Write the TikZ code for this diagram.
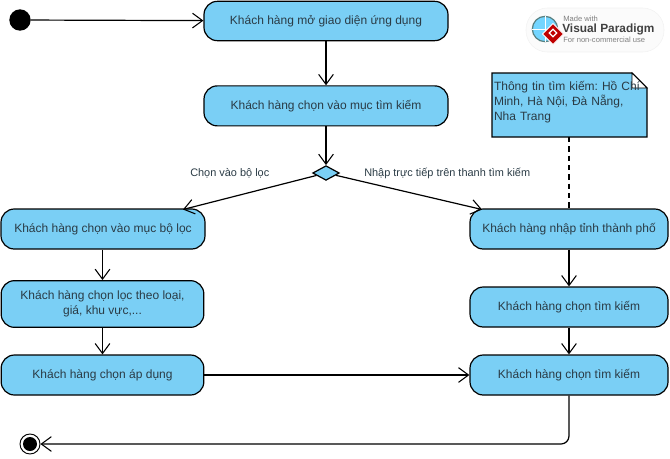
\documentclass[tikz,border=0pt]{standalone}
\usepackage{fontspec}
\setmainfont{Liberation Sans}
\usetikzlibrary{arrows.meta,positioning,shapes.geometric}
\definecolor{actblue}{HTML}{7ACFF5}
\definecolor{inkdark}{HTML}{2A3B45}
\frenchspacing
\tikzset{x=0.75pt,y=-0.75pt,
	activity/.style={
		draw=black,
		fill=actblue,
		line width=0.9pt,
		rounded corners=10pt,
		text=inkdark,
		font=\fontsize{9}{11}\selectfont,
		align=center,
		inner sep=0pt
	},
	guard/.style={
		text=inkdark,
		font=\fontsize{8.2}{10}\selectfont,
		inner sep=0pt
	},
	every edge/.style={
		draw,
		->,>={Straight Barb[length=7.5pt,width=11pt,line width=0.8pt]},
		line width=0.9pt
	}
}
\begin{document}
\begin{tikzpicture}
	\useasboundingbox (0,0) rectangle (670,458);

	\node[circle,fill=black,minimum size=16pt,inner sep=0pt] (start) at (20,20) {};
	\node[activity,minimum width=183pt,minimum height=29.5pt] (open) at (326,21) {Khách hàng mở giao diện ứng dụng};
	\node[activity,minimum width=183pt,minimum height=30pt,below=33pt of open] (search) {Khách hàng chọn vào mục tìm kiếm};
	\node[diamond,draw=black,fill=actblue,line width=0.9pt,minimum width=20pt,minimum height=11pt,inner sep=0pt] (choice) at (326,173) {};

	\node[activity,minimum width=153pt,minimum height=30pt] (filter) at (103,229) {Khách hàng chọn vào mục bộ lọc};
	\node[activity,minimum width=152pt,minimum height=35pt] (kind) at (102.5,304) {Khách hàng chọn lọc theo loại,\\giá, khu vực,...};
	\node[activity,minimum width=152pt,minimum height=30pt] (apply) at (102.5,375) {Khách hàng chọn áp dụng};

	\node[activity,minimum width=148.5pt,minimum height=30pt] (city) at (569,229) {Khách hàng nhập tỉnh thành phố};
	\node[activity,minimum width=148.5pt,minimum height=30pt] (find) at (569,307) {Khách hàng chọn tìm kiếm};
	\node[activity,minimum width=148.5pt,minimum height=30pt] (result) at (569,375) {Khách hàng chọn tìm kiếm};

	\node[circle,draw=black,line width=0.7pt,fill=white,minimum size=15pt,inner sep=0pt] (stop) at (30,444) {};
	\node[circle,fill=black,minimum size=10.5pt,inner sep=0pt] at (stop) {};

	\node[guard,anchor=west] (leftlabel) at (190,173) {Chọn vào bộ lọc};
	\node[guard,anchor=west] (rightlabel) at (364,173) {Nhập trực tiếp trên thanh tìm kiếm};
	\coordinate (leftin) at (183,209.5);
	\coordinate (rightin) at (482,209.5);

	% note with folded corner
	\draw[fill=actblue,line width=0.9pt] (492,73) -- (632,73) -- (647,88) -- (647,137) -- (492,137) -- cycle;
	\draw[fill=white,line width=0.7pt] (632,73) -- (632,88) -- (647,88) -- cycle;
	\node[anchor=north west,text width=116pt,inner sep=0pt,outer sep=0pt,align=left,text=inkdark,font=\fontsize{9}{11}\selectfont] (note) at (494,81.5) {Thông tin tìm kiếm: Hồ Chí Minh, Hà Nội, Đà Nẵng, Nha Trang};
	\coordinate (noteend) at (569,137);

	\draw (start) edge (open)
		(open) edge (search)
		(search) edge (choice)
		(choice) edge (leftin)
		(choice) edge (rightin)
		(filter.south -| kind) edge (kind)
		(kind) edge (apply)
		(apply) edge (result)
		(city) edge (find)
		(find) edge (result);
	\draw[line width=0.9pt,dash pattern=on 4pt off 3pt] (noteend) -- (city);
	\draw[line width=0.9pt,rounded corners=6pt,-{Straight Barb[length=7.5pt,width=11pt,line width=0.8pt]}] (result) |- (stop);

	% watermark
	\node[draw=gray!10,fill=gray!3,rounded corners=16pt,minimum width=103.5pt,minimum height=33pt,inner sep=0pt] (mark) at (595,30) {};
	\node[circle,draw=gray!70!teal,fill=blue!30!cyan!55,line width=0.9pt,minimum size=19pt,inner sep=0pt] (globe) at (545,29) {};
	\draw[white,line width=0.4pt] (globe.north) -- (globe.south) (globe.west) -- (globe.east);
	\node[diamond,fill=red!75!black,draw=white,line width=0.6pt,minimum size=16pt,inner sep=0pt] (gem) at (553,34) {};
	\node[diamond,draw=white,line width=0.9pt,minimum size=6pt,inner sep=0pt] (geminner) at (553,33) {};
	\node[anchor=west,text=gray,font=\fontsize{5.7}{7}\selectfont,inner sep=0pt] (made) at (563,19) {Made with};
	\node[anchor=west,text=black!75,font=\fontsize{8.9}{11}\selectfont\bfseries,inner sep=0pt] (brand) at (562,29) {Visual Paradigm};
	\node[anchor=west,text=gray,font=\fontsize{5.7}{7}\selectfont,inner sep=0pt] (use) at (563,40) {For non-commercial use};
\end{tikzpicture}
\end{document}
